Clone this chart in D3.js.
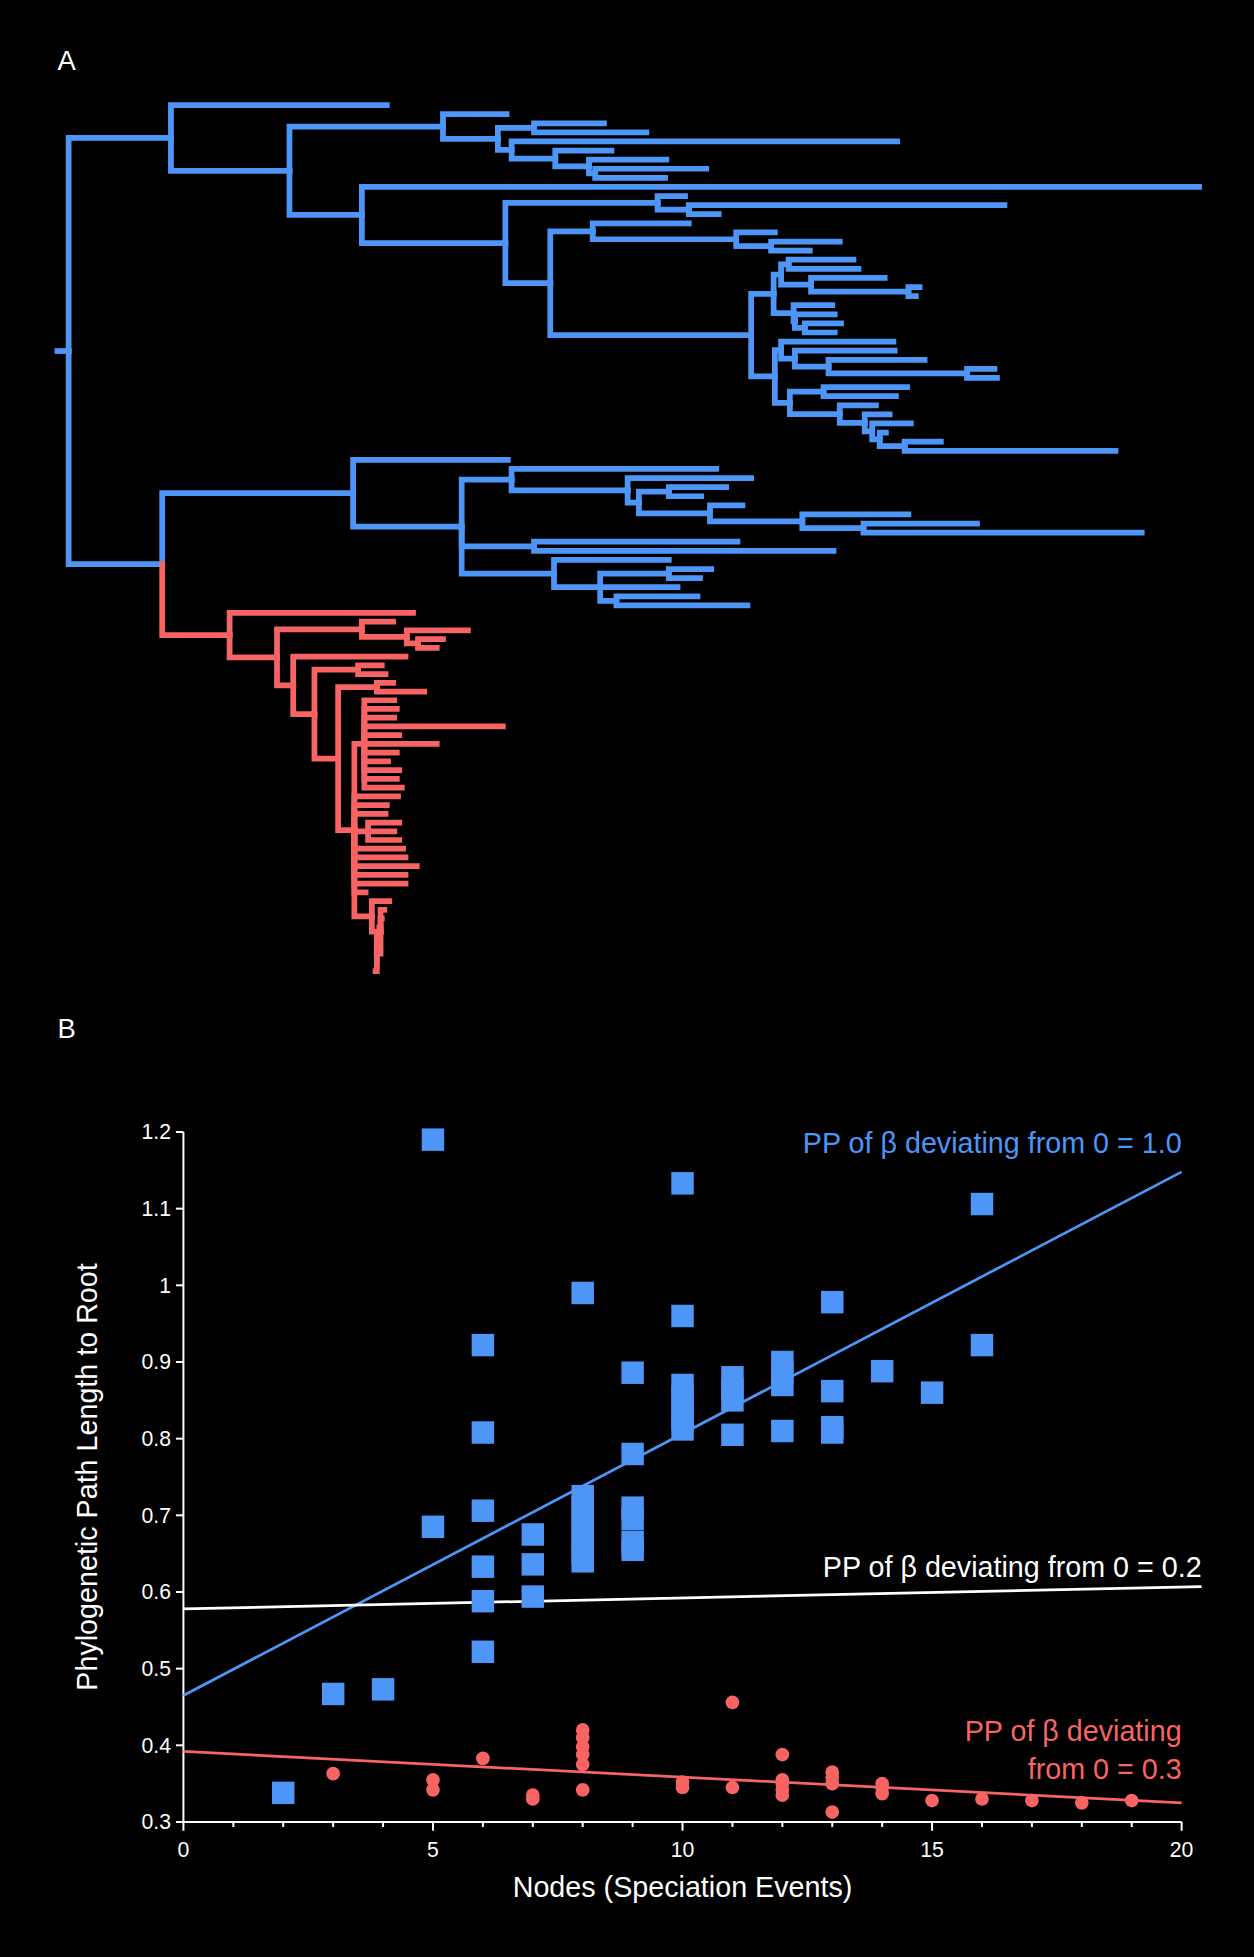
<!DOCTYPE html>
<html>
<head>
<meta charset="utf-8">
<script src="https://cdn.jsdelivr.net/npm/d3@7"></script>
<style>
  html, body { margin: 0; background: #000; }
  svg { display: block; }
  text { font-family: "Liberation Sans", Arial, sans-serif; fill: #fff; }
</style>
</head>
<body>
<div id="chart"></div>
<script>
// ---- panel A: tree, nested [pathLength, children...], a bare number is a tip
var blueClade = [9,
  [91, 264,
    [186,
      [309, 360,
        [353, [382, 438, 472],
          [364, 673, [399, 444, [426, 488, [431, 520, 487]]]]]],
      [244, 915,
        [359,
          [481, 503, [506, 759, 530]],
          [395,
            [429, 506, [544, 575, [572, 627, 603]]],
            [556,
              [574, [580, [586, 638, 642], [604, 663, [682, 691, 688]]],
                    [576, [590, 621, [591, 623, [599, 628, 623]]]]],
              [575,
                [580, 670, [591, 671, [618, 695, [729, 751, 753]]]],
                [587, [614, 681, 672],
                  [627, 656, [647, 667, [653, 684, [659, 664, [679, 708, 848]]]]]]]]]]]]],
  [84,
    [237, 361,
      [324,
        [364, 528, [457, 556, [466, [490, 536, 516], [523, 549, [597, 682, [646, 737, 869]]]]]],
        [382, 545, 622],
        [398, 490, [435, [490, 524, 515], 497, [448, 513, 553]]]]],
    "RED"]];

var redClade = [138, 285,
  [176,
    [244, 269, [280, 329, [289, 309, 304]]],
    [189, 279,
      [206,
        [241, 260, 263],
        [225,
          [256, 269, 294],
          [238,
            [246, 270, 272, 270, 357, 274, 304, 272, 265, 274, 272, 276],
            273, 264, 263,
            [249, 274, 270, 274],
            277, 279, 288, 279, 279, 247,
            [252, 266, [259, 262, 260, 258, [256, 258, 257, 256, 256, 255]]]]]]]]];

// ---- panel B data
var blueX = [2, 3, 4, 5, 5, 6, 6, 6, 6, 6, 6, 7, 7, 7, 8, 8, 8, 8, 8, 8, 8, 8,
  9, 9, 9, 9, 9, 9, 10, 10, 10, 10, 10, 10, 10, 11, 11, 11, 11, 12, 12, 12, 12,
  13, 13, 13, 13, 14, 15, 16, 16];
var blueY = [0.338, 0.467, 0.473, 1.19, 0.685, 0.922, 0.808, 0.706, 0.633, 0.588, 0.522,
  0.675, 0.636, 0.594, 0.99, 0.725, 0.71, 0.695, 0.68, 0.665, 0.65, 0.64,
  0.886, 0.78, 0.71, 0.695, 0.665, 0.655, 1.133, 0.96, 0.87, 0.855, 0.84, 0.825, 0.812,
  0.88, 0.865, 0.85, 0.805, 0.9, 0.885, 0.87, 0.81,
  0.978, 0.862, 0.815, 0.808, 0.888, 0.86, 1.106, 0.922];
var redX = [3, 5, 5, 6, 7, 7, 8, 8, 8, 8, 8, 8, 10, 10, 11, 11, 12, 12, 12, 12, 12,
  13, 13, 13, 13, 14, 14, 14, 15, 16, 17, 18, 19];
var redY = [0.363, 0.355, 0.342, 0.383, 0.335, 0.33, 0.42, 0.41, 0.398, 0.388, 0.375, 0.342,
  0.352, 0.345, 0.456, 0.345, 0.388, 0.355, 0.35, 0.342, 0.335,
  0.365, 0.358, 0.35, 0.313, 0.35, 0.345, 0.337, 0.328, 0.33, 0.328, 0.325, 0.328];
var fits = [
  { color: "#4d96f7", x: [0, 20], y: [0.465, 1.148], label: ["PP of \u03b2 deviating from 0 = 1.0"], lx: 20, ly: 1.172 },
  { color: "#ffffff", x: [0, 20.4], y: [0.578, 0.607], label: ["PP of \u03b2 deviating from 0 = 0.2"], lx: 20.4, ly: 0.62 },
  { color: "#f86464", x: [0, 20], y: [0.392, 0.325], label: ["PP of \u03b2 deviating", "from 0 = 0.3"], lx: 20, ly: 0.405 }
];
var yTicks = [0.3, 0.4, 0.5, 0.6, 0.7, 0.8, 0.9, 1, 1.1, 1.2];
var xTicks = [0, 5, 10, 15, 20];

var BLUE = "#4d96f7", RED = "#f86464";

var svg = d3.select("#chart").append("svg")
  .attr("width", 1254).attr("height", 1957)
  .attr("viewBox", "0 0 1005 1568");
svg.append("rect").attr("width", 1005).attr("height", 1568).attr("fill", "#000");

svg.append("text").attr("x", 46).attr("y", 56).attr("font-size", 22).text("A");
svg.append("text").attr("x", 46).attr("y", 832).attr("font-size", 22).text("B");

// build hierarchy
function build(a, color) {
  if (a === "RED") return build(redClade, RED);
  if (typeof a === "number") return { d: a, color: color };
  return { d: a[0], color: color, children: a.slice(1).map(function(c){ return build(c, color); }) };
}
var root = d3.hierarchy(build(blueClade, BLUE));
var leaves = root.leaves();
var blueLeaves = leaves.filter(function(l){ return l.data.color === BLUE; });
var redLeaves = leaves.filter(function(l){ return l.data.color === RED; });

var tx = d3.scaleLinear().domain([0, 915]).range([46, 961]);
var yBlue = d3.scalePoint().domain(d3.range(blueLeaves.length)).range([84, 485]);
var yRed = d3.scalePoint().domain(d3.range(redLeaves.length)).range([491, 778]);
blueLeaves.forEach(function(l, i){ l.ty = yBlue(i); });
redLeaves.forEach(function(l, i){ l.ty = yRed(i); });
root.eachAfter(function(n){
  if (n.children) n.ty = (n.children[0].ty + n.children[n.children.length - 1].ty) / 2;
});

var links = root.links();
// draw red after blue so joins look right
links.sort(function(a, b){ return (a.target.data.color === RED) - (b.target.data.color === RED); });

var gTree = svg.append("g").attr("fill", "none").attr("stroke-width", 4.6).attr("stroke-linecap", "square");
gTree.append("path")
  .attr("stroke", BLUE)
  .attr("d", "M" + tx(0) + "," + root.ty + "H" + tx(root.data.d));
gTree.selectAll("path.link").data(links).enter().append("path")
  .attr("class", "link")
  .attr("stroke", function(l){ return l.target.data.color; })
  .attr("d", function(l){
    return "M" + tx(l.source.data.d) + "," + l.source.ty +
      "V" + l.target.ty + "H" + tx(l.target.data.d);
  });

// ---- panel B
var x = d3.scaleLinear().domain([0, 20]).range([147, 947]);
var y = d3.scaleLinear().domain([0.3, 1.2]).range([1460, 907]);

var gAxes = svg.append("g").attr("stroke", "#fff").attr("stroke-width", 1.6);
gAxes.append("line").attr("x1", x(0)).attr("x2", x(20)).attr("y1", y(0.3)).attr("y2", y(0.3));
gAxes.append("line").attr("x1", x(0)).attr("x2", x(0)).attr("y1", y(0.3)).attr("y2", y(1.2));
gAxes.selectAll("line.minor").data(d3.range(0, 21)).enter().append("line")
  .attr("class", "minor")
  .attr("x1", function(d){ return x(d); }).attr("x2", function(d){ return x(d); })
  .attr("y1", y(0.3)).attr("y2", function(d){ return y(0.3) + (d % 5 === 0 ? 7 : 4); });
gAxes.selectAll("line.ytick").data(yTicks).enter().append("line")
  .attr("class", "ytick")
  .attr("x1", x(0) - 6).attr("x2", x(0))
  .attr("y1", function(d){ return y(d); }).attr("y2", function(d){ return y(d); });

svg.selectAll("text.ylab").data(yTicks).enter().append("text")
  .attr("class", "ylab")
  .attr("x", x(0) - 10).attr("y", function(d){ return y(d) + 6; })
  .attr("text-anchor", "end").attr("font-size", 17)
  .text(function(d){ return d; });
svg.selectAll("text.xlab").data(xTicks).enter().append("text")
  .attr("class", "xlab")
  .attr("x", function(d){ return x(d); }).attr("y", y(0.3) + 28)
  .attr("text-anchor", "middle").attr("font-size", 17)
  .text(function(d){ return d; });

svg.append("text").attr("x", x(10)).attr("y", 1520).attr("text-anchor", "middle")
  .attr("font-size", 23).text("Nodes (Speciation Events)");
svg.append("text").attr("transform", "translate(78," + y(0.75) + ") rotate(-90)")
  .attr("text-anchor", "middle").attr("font-size", 23).text("Phylogenetic Path Length to Root");

var gFit = svg.append("g");
fits.forEach(function(f){
  gFit.append("line")
    .attr("x1", x(f.x[0])).attr("y1", y(f.y[0]))
    .attr("x2", x(f.x[1])).attr("y2", y(f.y[1]))
    .attr("stroke", f.color).attr("stroke-width", 2.2);
  var t = gFit.append("text").attr("text-anchor", "end").attr("font-size", 23)
    .style("fill", f.color);
  f.label.forEach(function(s, i){
    t.append("tspan").attr("x", x(f.lx)).attr("y", y(f.ly) + i * 30).text(s);
  });
});

var sq = 18;
svg.append("g").selectAll("rect").data(d3.range(blueX.length)).enter().append("rect")
  .attr("x", function(i){ return x(blueX[i]) - sq / 2; })
  .attr("y", function(i){ return y(blueY[i]) - sq / 2; })
  .attr("width", sq).attr("height", sq)
  .attr("fill", BLUE);

svg.append("g").selectAll("circle").data(d3.range(redX.length)).enter().append("circle")
  .attr("cx", function(i){ return x(redX[i]); })
  .attr("cy", function(i){ return y(redY[i]); })
  .attr("r", 5.5)
  .attr("fill", RED);
</script>
</body>
</html>
